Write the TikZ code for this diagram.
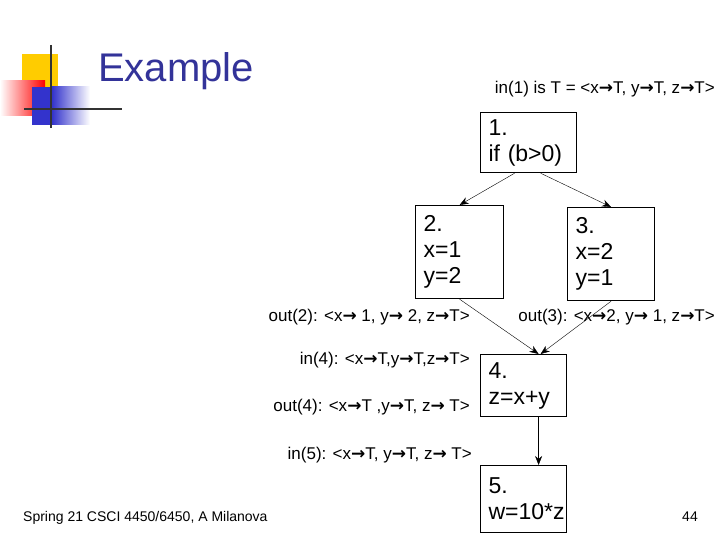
\documentclass[tikz,border=0pt]{standalone}
\usepackage{fontspec}
\setmainfont{Liberation Sans}
\newfontfamily\arrowfont{DejaVu Sans}
\usetikzlibrary{arrows.meta}
\definecolor{titleblue}{RGB}{51,51,153}
\definecolor{logoyellow}{RGB}{255,204,0}
\definecolor{logoblue}{RGB}{51,51,204}
\newcommand{\mapsarrow}{{\arrowfont\bfseries →}}
\tikzset{
  blockbox/.style={draw,very thick,align=left,anchor=north west,inner xsep=8pt,inner ysep=2pt,font=\fontsize{23}{26}\selectfont},
  flow/.style={-{Stealth[length=9pt,width=7pt]},thin},
  setlabel/.style={anchor=base east,font=\fontsize{17}{19}\selectfont,inner sep=0pt}
}
\begin{document}
\begin{tikzpicture}[x=1pt,y=-1pt]
  \useasboundingbox (0,0) rectangle (720,540);
  % logo
  \fill[logoyellow] (22,54) rectangle (58,88);
  \shade[left color=white,right color=red] (0,81) rectangle (45,116);
  \fill[logoblue] (32,87) rectangle (52,125);
  \shade[left color=logoblue,right color=white] (52,87) rectangle (90,125);
  \draw[line width=2pt,black!80] (51,45) -- (51,128);
  \draw[line width=2pt,black!80] (24,109) -- (122,109);
  \node[anchor=base west,text=titleblue,font=\fontsize{40}{44}\selectfont,inner sep=0pt] (title) at (98,82) {Example};
  \node[setlabel] (in1) at (715,94) {in(1) is T = <x\mapsarrow T, y\mapsarrow T, z\mapsarrow T>};
  % blocks
  \node[blockbox,text width=80pt,minimum height=60pt] (b1) at (480,112) {1.\\if (b>0)};
  \node[blockbox,text width=72pt,minimum height=93pt] (b2) at (415,205) {2.\\x=1\\y=2};
  \node[blockbox,text width=71pt,minimum height=93pt] (b3) at (567,207) {3.\\x=2\\y=1};
  \node[blockbox,text width=70pt,minimum height=62pt] (b4) at (480,354) {4.\\z=x+y};
  \node[blockbox,text width=70pt,minimum height=67pt] (b5) at (480,465) {5.\\w=10*z};
  \draw[flow] ([xshift=-14pt]b1.south) -- (b2.north);
  \draw[flow] ([xshift=12pt]b1.south) -- (b3.north);
  \draw[flow] (b2.south) -- ([xshift=15pt]b4.north);
  \draw[flow] (b3.south) -- ([xshift=17pt]b4.north);
  \draw[flow] ([xshift=15pt]b4.south) -- ([xshift=15pt]b5.north);
  % dataflow sets
  \node[setlabel] (out2) at (470,321) {out(2): <x\mapsarrow\ 1, y\mapsarrow\ 2, z\mapsarrow T>};
  \node[setlabel] (out3) at (715,321) {out(3): <x\mapsarrow 2, y\mapsarrow\ 1, z\mapsarrow T>};
  \node[setlabel] (in4) at (470,364) {in(4): <x\mapsarrow T,y\mapsarrow T,z\mapsarrow T>};
  \node[setlabel] (out4) at (470,411) {out(4): <x\mapsarrow T ,y\mapsarrow T, z\mapsarrow\ T>};
  \node[setlabel] (in5) at (472,459) {in(5): <x\mapsarrow T, y\mapsarrow T, z\mapsarrow\ T>};
  % footer
  \node[anchor=base west,font=\fontsize{14}{16}\selectfont,inner sep=0pt] (foot) at (23,521) {Spring 21 CSCI 4450/6450, A Milanova};
  \node[anchor=base east,font=\fontsize{14}{16}\selectfont,inner sep=0pt] (page) at (698,521) {44};
\end{tikzpicture}
\end{document}
